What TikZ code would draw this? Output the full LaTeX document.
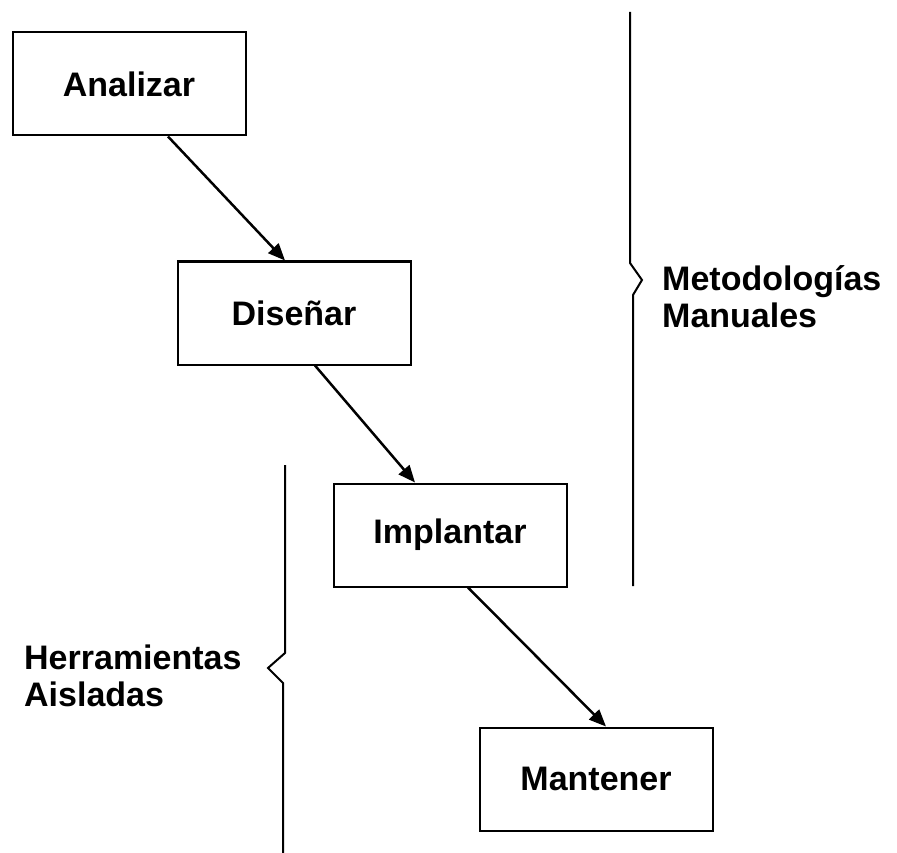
\documentclass[tikz,border=0pt]{standalone}
\usepackage{fontspec}
\setmainfont{Liberation Sans}
\usetikzlibrary{arrows.meta}

\begin{document}
\begin{tikzpicture}[x=1pt,y=-1pt,
	paso/.style={draw,line width=2pt,minimum width=233pt,minimum height=103pt,inner sep=0pt,font=\fontsize{34}{36}\selectfont\bfseries},
	flecha/.style={line width=2.5pt,-{Triangle[length=17pt,width=14pt]}},
	llave/.style={line width=2pt,line join=miter},
	etiqueta/.style={align=left,inner sep=0pt,anchor=west,font=\fontsize{34}{37}\selectfont\bfseries}]
	\useasboundingbox (0,0) rectangle (897,853);

		% las cuatro fases
		\node[paso] (analizar)  at (129,84)  {Analizar};
		\node[paso] (disenar)   at (294,313) {Diseñar};
		\node[paso] (implantar) at (450,535) {Implantar};
		\node[paso] (mantener)  at (596,779) {Mantener};

		\draw[flecha] ([xshift=39pt]analizar.south)  -- ([xshift=-9pt]disenar.north);
		\draw[flecha] ([xshift=21pt]disenar.south)   -- ([xshift=-35pt]implantar.north);
		\draw[flecha] ([xshift=18pt]implantar.south) -- ([xshift=10pt]mantener.north);

		% llaves
		\draw[llave] (630,12) -- (630,263) -- (642,280) -- (633,295) -- (633,586);
		\draw[llave] (285,465) -- (285,653) -- (268,668) -- (283,683) -- (283,853);

		\node[etiqueta] (metodologias) at (662,297) {Metodologías\\Manuales};
		\node[etiqueta] (herramientas) at (24,676)  {Herramientas\\Aisladas};
	\end{tikzpicture}
\end{document}
